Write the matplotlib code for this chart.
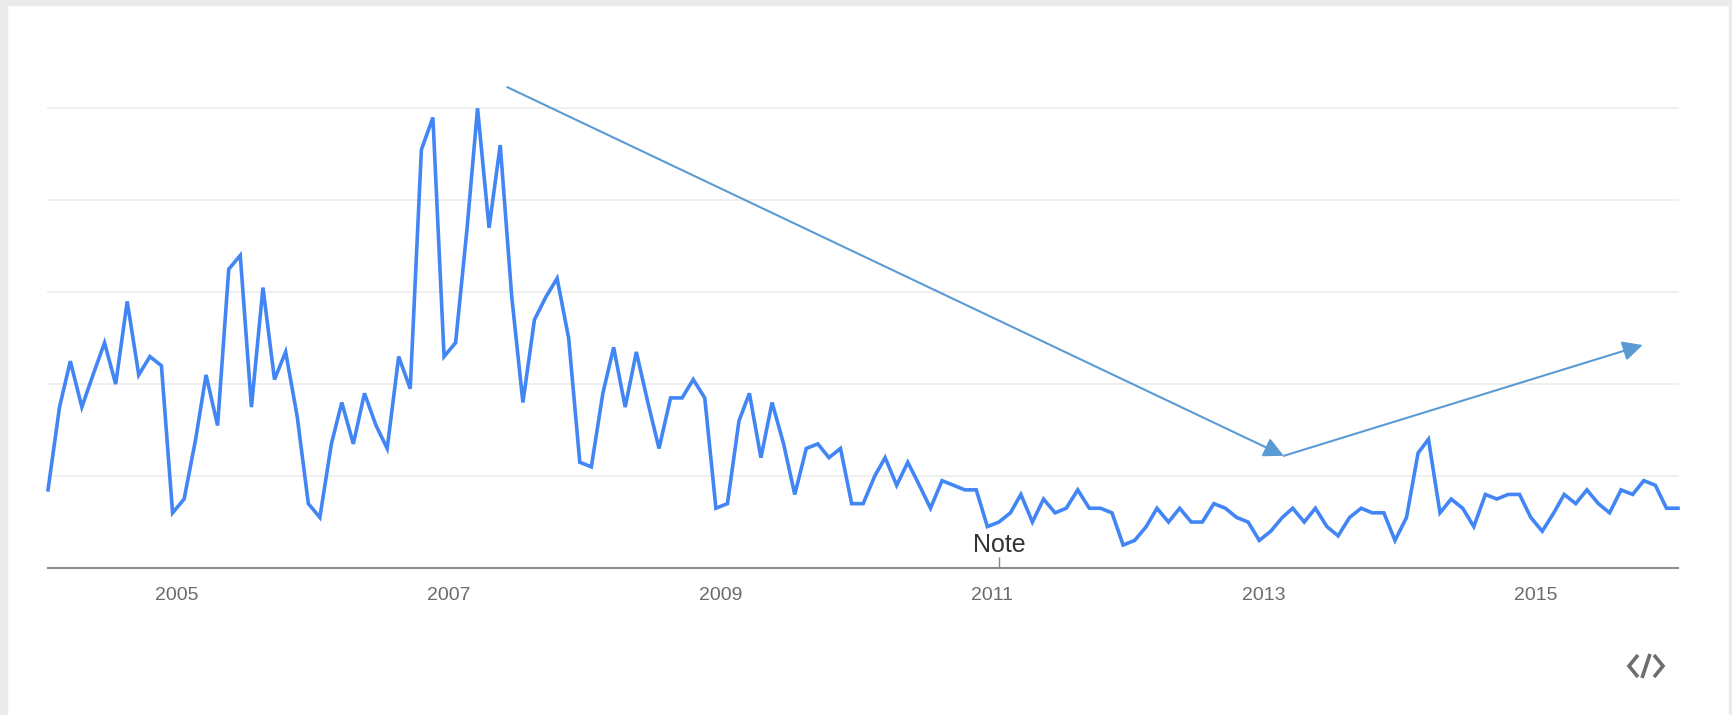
import numpy as np
import pandas as pd
import matplotlib
matplotlib.use("Agg")
import matplotlib.pyplot as plt
from matplotlib.patches import Rectangle
from matplotlib.lines import Line2D
from matplotlib.transforms import ScaledTranslation

plt.rcParams['font.family'] = ['Liberation Sans', 'DejaVu Sans']

# monthly interest, Jan 2004 .. Jan 2016
months = pd.date_range('2004-01-01', periods=145, freq='MS')
interest = [
    17, 35, 45, 35, 42, 49, 40, 58, 42, 46, 44, 12,   # 2004
    15, 28, 42, 31, 65, 68, 35, 61, 41, 47, 33, 14,   # 2005
    11, 27, 36, 27, 38, 31, 26, 46, 39, 91, 98, 46,   # 2006
    49, 74, 100, 74, 92, 59, 36, 54, 59, 63, 50, 23,  # 2007
    22, 38, 48, 35, 47, 36, 26, 37, 37, 41, 37, 13,   # 2008
    14, 32, 38, 24, 36, 27, 16, 26, 27, 24, 26, 14,   # 2009
    14, 20, 24, 18, 23, 18, 13, 19, 18, 17, 17, 9,    # 2010
    10, 12, 16, 10, 15, 12, 13, 17, 13, 13, 12, 5,    # 2011
    6, 9, 13, 10, 13, 10, 10, 14, 13, 11, 10, 6,      # 2012
    8, 11, 13, 10, 13, 9, 7, 11, 13, 12, 12, 6,       # 2013
    11, 25, 28, 12, 15, 13, 9, 16, 15, 16, 16, 11,    # 2014
    8, 12, 16, 14, 17, 14, 12, 17, 16, 19, 18, 13,    # 2015
    13,                                               # 2016
]
tick_years = [2005, 2007, 2009, 2011, 2013, 2015]
grid_values = [20, 40, 60, 80, 100]
note_date = pd.Timestamp('2011-01-01')

# trend arrows drawn over the chart (date, value)
arrow_down = (pd.Timestamp('2007-05-20'), 104.6, pd.Timestamp('2013-02-05'), 24.4)
arrow_up = (pd.Timestamp('2013-02-05'), 24.4, pd.Timestamp('2015-09-28'), 48.5)

W, H = 1732, 715
fig = plt.figure(figsize=(W / 100, H / 100), dpi=100)
fig.patch.set_facecolor('white')

# light grey frame strips (top, left, right)
frame = '#ebebeb'
fig.patches.append(Rectangle((0, 1 - 5 / H), 1, 5 / H, transform=fig.transFigure, color=frame, zorder=0))
fig.patches.append(Rectangle((0, 0), 7 / W, 1, transform=fig.transFigure, color=frame, zorder=0))
fig.patches.append(Rectangle((1 - 3 / W, 0), 3 / W, 1, transform=fig.transFigure, color=frame, zorder=0))

ax = fig.add_axes([48 / W, 1 - 568 / H, 1630 / W, (568 - 108.3) / H])
ax.set_facecolor('none')

ax.plot(months, interest, color='#4285f4', lw=2.6, solid_joinstyle='miter', zorder=3, clip_on=False)

ax.set_xlim(months[0], months[-1])
ax.set_ylim(0, 100)

for v in grid_values:
    ax.axhline(v, color='#ececec', lw=1.2, zorder=1, clip_on=False)

for s in ['top', 'left', 'right']:
    ax.spines[s].set_visible(False)
ax.spines['bottom'].set_color('#8c8c8c')
ax.spines['bottom'].set_linewidth(1.5)

ax.set_yticks([])
ax.set_xticks([pd.Timestamp(f'{y}-01-01') for y in tick_years])
ax.set_xticklabels([str(y) for y in tick_years])
ax.tick_params(axis='x', length=0, pad=14, labelsize=14, labelcolor='#6b6b6b')
shift = ScaledTranslation(-7 / 100, 0, fig.dpi_scale_trans)
for lab in ax.get_xticklabels():
    lab.set_transform(lab.get_transform() + shift)

# annotation marker
ax.vlines(note_date, 0, 2.4, color='#888888', lw=1, zorder=4)
ax.text(note_date, 3.5, 'Note', ha='center', va='baseline', fontsize=18, color='#333333', zorder=5)

# arrows
for x0, y0, x1, y1 in [arrow_down, arrow_up]:
    ax.annotate('', xy=(x1, y1), xytext=(x0, y0), annotation_clip=False,
                arrowprops=dict(arrowstyle='-|>,head_length=0.6,head_width=0.3',
                                mutation_scale=20, color='#5b9bd5', lw=1.5,
                                shrinkA=0, shrinkB=0))

# embed icon  </>  drawn as strokes, figure pixel coords (y from top)
icon = [
    [(1638, 655), (1629, 666), (1638, 677)],
    [(1650, 654), (1642, 678)],
    [(1654, 655), (1663, 666), (1654, 677)],
]
for pts in icon:
    xs = [p[0] / W for p in pts]
    ys = [1 - p[1] / H for p in pts]
    fig.add_artist(Line2D(xs, ys, transform=fig.transFigure, color='#6e6e6e',
                          lw=2.6, solid_joinstyle='miter', solid_capstyle='butt'))

fig.savefig('out.png', dpi=100, facecolor=fig.get_facecolor())
